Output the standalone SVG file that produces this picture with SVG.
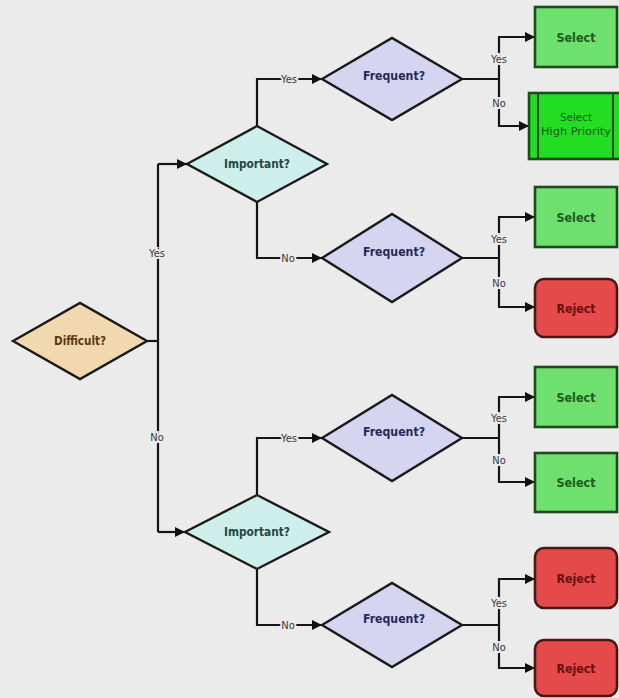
<svg xmlns="http://www.w3.org/2000/svg" width="619" height="698" viewBox="0 0 619 698">
  <defs>
    <marker id="arrow" viewBox="0 0 10 10" refX="10" refY="5" markerWidth="11" markerHeight="10" markerUnits="userSpaceOnUse" orient="auto">
      <path d="M0,0 L10,5 L0,10 z" fill="#111"/>
    </marker>
  </defs>
  <style>
    .wire { fill: none; stroke: #151515; stroke-width: 2.2; }
    .arr { marker-end: url(#arrow); }
    .lbl { font-family: "DejaVu Sans Condensed", "DejaVu Sans", sans-serif; font-size: 11px; fill: #3a3a3a; text-anchor: middle; dominant-baseline: central; stroke: #ebebeb; stroke-width: 4; paint-order: stroke; }
    .dia { stroke: #1a1a1a; stroke-width: 2.4; stroke-linejoin: miter; }
    .dtxt { font-family: "DejaVu Sans Condensed", "DejaVu Sans", sans-serif; font-weight: bold; font-size: 12.5px; text-anchor: middle; dominant-baseline: central; }
    .diff { fill: #f2d8ae; }
    .imp { fill: #cdeeea; }
    .freq { fill: #d5d5f1; }
    .box { stroke-width: 2.6; }
    .sel { fill: #6ee06e; stroke: #1e4a1e; }
    .hp { fill: #22dd22; stroke: #1e4a1e; }
    .rej { fill: #e44a4a; stroke: #4a1616; }
    .btxt { font-family: "DejaVu Sans Condensed", "DejaVu Sans", sans-serif; font-weight: bold; font-size: 12.5px; text-anchor: middle; dominant-baseline: central; }
    .small { font-family: "DejaVu Sans Condensed", "DejaVu Sans", sans-serif; font-size: 10.5px; text-anchor: middle; dominant-baseline: central; fill: #1d5a1d; }
  </style>

  <rect width="619" height="698" fill="#ebebeb"/>

  <!-- connectors -->
  <g id="connectors">
    <path class="wire" d="M147,341 H158"/>
    <path class="wire" d="M158,164 V532"/>
    <path class="wire arr" d="M158,164 H187"/>
    <path class="wire arr" d="M158,532 H185"/>

    <path class="wire arr" d="M257,126 V79 H322"/>
    <path class="wire arr" d="M257,202 V258 H322"/>
    <path class="wire arr" d="M257,495 V438 H322"/>
    <path class="wire arr" d="M257,569 V625 H322"/>

    <path class="wire" d="M462,79 H499"/>
    <path class="wire arr" d="M499,79 V37 H535"/>
    <path class="wire arr" d="M499,79 V126 H529"/>

    <path class="wire" d="M462,258 H499"/>
    <path class="wire arr" d="M499,258 V217 H535"/>
    <path class="wire arr" d="M499,258 V307 H535"/>

    <path class="wire" d="M462,438 H499"/>
    <path class="wire arr" d="M499,438 V397 H535"/>
    <path class="wire arr" d="M499,438 V482 H535"/>

    <path class="wire" d="M462,625 H499"/>
    <path class="wire arr" d="M499,625 V579 H535"/>
    <path class="wire arr" d="M499,625 V668 H535"/>

    <text class="lbl" x="157" y="253">Yes</text>
    <text class="lbl" x="157" y="437">No</text>
    <text class="lbl" x="289" y="79">Yes</text>
    <text class="lbl" x="288" y="258">No</text>
    <text class="lbl" x="289" y="438">Yes</text>
    <text class="lbl" x="288" y="625">No</text>

    <text class="lbl" x="499" y="59">Yes</text>
    <text class="lbl" x="499" y="103">No</text>
    <text class="lbl" x="499" y="239">Yes</text>
    <text class="lbl" x="499" y="283">No</text>
    <text class="lbl" x="499" y="418">Yes</text>
    <text class="lbl" x="499" y="460">No</text>
    <text class="lbl" x="499" y="603">Yes</text>
    <text class="lbl" x="499" y="647">No</text>
  </g>

  <!-- decisions -->
  <g id="difficult">
    <polygon class="dia diff" points="13,341 80,303 147,341 80,379"/>
    <text class="dtxt" x="80" y="340" fill="#5a3a12" textLength="52" lengthAdjust="spacingAndGlyphs">Difficult?</text>
  </g>
  <g id="important-1">
    <polygon class="dia imp" points="187,164 257,126 327,164 257,202"/>
    <text class="dtxt" x="257" y="163" fill="#1f4848" textLength="66" lengthAdjust="spacingAndGlyphs">Important?</text>
  </g>
  <g id="important-2">
    <polygon class="dia imp" points="185,532 257,495 329,532 257,569"/>
    <text class="dtxt" x="257" y="531" fill="#1f4848" textLength="66" lengthAdjust="spacingAndGlyphs">Important?</text>
  </g>
  <g id="frequent-1">
    <polygon class="dia freq" points="322,79 392,38 462,79 392,120"/>
    <text class="dtxt" x="394" y="75" fill="#26285e" textLength="62" lengthAdjust="spacingAndGlyphs">Frequent?</text>
  </g>
  <g id="frequent-2">
    <polygon class="dia freq" points="322,258 392,214 462,258 392,302"/>
    <text class="dtxt" x="394" y="251" fill="#26285e" textLength="62" lengthAdjust="spacingAndGlyphs">Frequent?</text>
  </g>
  <g id="frequent-3">
    <polygon class="dia freq" points="322,438 392,395 462,438 392,481"/>
    <text class="dtxt" x="394" y="431" fill="#26285e" textLength="62" lengthAdjust="spacingAndGlyphs">Frequent?</text>
  </g>
  <g id="frequent-4">
    <polygon class="dia freq" points="322,625 392,583 462,625 392,667"/>
    <text class="dtxt" x="394" y="618" fill="#26285e" textLength="62" lengthAdjust="spacingAndGlyphs">Frequent?</text>
  </g>

  <!-- outcomes -->
  <g id="select-1">
    <rect class="box sel" x="535" y="7" width="82" height="60"/>
    <text class="btxt" x="576" y="37" fill="#1d5a1d" textLength="39" lengthAdjust="spacingAndGlyphs">Select</text>
  </g>
  <g id="select-high-priority">
    <rect class="box hp" x="529" y="93" width="92" height="66"/>
    <line x1="538" y1="93" x2="538" y2="159" stroke="#1e4a1e" stroke-width="2"/>
    <line x1="613" y1="93" x2="613" y2="159" stroke="#1e4a1e" stroke-width="2"/>
    <text class="small" x="576" y="117" textLength="32" lengthAdjust="spacingAndGlyphs">Select</text>
    <text class="small" x="576" y="131" textLength="70" lengthAdjust="spacingAndGlyphs">High Priority</text>
  </g>
  <g id="select-2">
    <rect class="box sel" x="535" y="187" width="82" height="60"/>
    <text class="btxt" x="576" y="217" fill="#1d5a1d" textLength="39" lengthAdjust="spacingAndGlyphs">Select</text>
  </g>
  <g id="reject-1">
    <rect class="box rej" x="535" y="279" width="82" height="58" rx="9"/>
    <text class="btxt" x="576" y="308" fill="#6a1010" textLength="39" lengthAdjust="spacingAndGlyphs">Reject</text>
  </g>
  <g id="select-3">
    <rect class="box sel" x="535" y="367" width="82" height="60"/>
    <text class="btxt" x="576" y="397" fill="#1d5a1d" textLength="39" lengthAdjust="spacingAndGlyphs">Select</text>
  </g>
  <g id="select-4">
    <rect class="box sel" x="535" y="453" width="82" height="59"/>
    <text class="btxt" x="576" y="482" fill="#1d5a1d" textLength="39" lengthAdjust="spacingAndGlyphs">Select</text>
  </g>
  <g id="reject-2">
    <rect class="box rej" x="535" y="548" width="82" height="60" rx="9"/>
    <text class="btxt" x="576" y="578" fill="#6a1010" textLength="39" lengthAdjust="spacingAndGlyphs">Reject</text>
  </g>
  <g id="reject-3">
    <rect class="box rej" x="535" y="640" width="82" height="56" rx="9"/>
    <text class="btxt" x="576" y="668" fill="#6a1010" textLength="39" lengthAdjust="spacingAndGlyphs">Reject</text>
  </g>
</svg>
